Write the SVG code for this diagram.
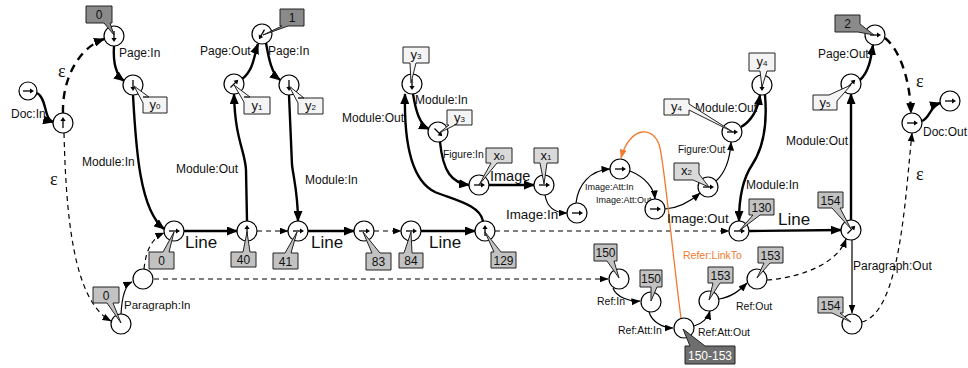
<svg xmlns="http://www.w3.org/2000/svg" xmlns:xlink="http://www.w3.org/1999/xlink" width="968" height="368" viewBox="0 0 968 368">
<style>
.nd{fill:#fff;stroke:#000;stroke-width:1.2}
.gl{stroke:#000;stroke-width:1.3;fill:none}
.co{stroke:#222;stroke-width:1}
.dk{fill:#8a8a8a}
.dk2{fill:#6e6e6e}
.md{fill:#c2c2c2}
.lt{fill:#f4f4f4}
.xb{fill:#d9d9d9}
.ct{font-family:"Liberation Sans",Arial,sans-serif;font-size:12px;text-anchor:middle;fill:#111}
.ctw{font-family:"Liberation Sans",Arial,sans-serif;font-size:12px;text-anchor:middle;fill:#fff}
.yt{font-family:"Liberation Sans",Arial,sans-serif;font-size:13px;text-anchor:middle;fill:#111}
.sb{font-size:8px}
.tk{stroke:#000;stroke-width:2.4;fill:none;marker-end:url(#ab)}
.tkd{stroke:#000;stroke-width:2.4;fill:none;stroke-dasharray:8 6;marker-end:url(#ab)}
.tn{stroke:#000;stroke-width:1.2;fill:none;marker-end:url(#as)}
.tnd{stroke:#000;stroke-width:1.2;fill:none;stroke-dasharray:5 4;marker-end:url(#as)}
.tnn{stroke:#000;stroke-width:1.2;fill:none;stroke-dasharray:5 4}
.or{stroke:#f07a30;stroke-width:1.3;fill:none;marker-end:url(#ao)}
.lb{font-family:"Liberation Sans",Arial,sans-serif;font-size:12px;fill:#111}
.ls{font-family:"Liberation Sans",Arial,sans-serif;font-size:10.5px;fill:#111}
.lxs{font-family:"Liberation Sans",Arial,sans-serif;font-size:9px;fill:#111}
.lbig{font-family:"Liberation Sans",Arial,sans-serif;font-size:17px;fill:#111}
.eps{font-family:"Liberation Serif","Times New Roman",serif;font-size:18px;fill:#111}
</style>
<defs>
<marker id="ab" markerWidth="11" markerHeight="9" refX="10" refY="4.5" orient="auto" markerUnits="userSpaceOnUse"><path d="M0,0 L11,4.5 L0,9 z" fill="#000"/></marker>
<marker id="as" markerWidth="9" markerHeight="7" refX="8.5" refY="3.5" orient="auto" markerUnits="userSpaceOnUse"><path d="M0,0 L9,3.5 L0,7 z" fill="#000"/></marker>
<marker id="ao" markerWidth="9" markerHeight="7" refX="8.5" refY="3.5" orient="auto" markerUnits="userSpaceOnUse"><path d="M0,0 L9,3.5 L0,7 z" fill="#f07a30"/></marker>
<g id="g"><path class="gl" d="M-5,0 H3"/><path d="M2,-2.6 L6,0 L2,2.6 z" fill="#000"/></g>
</defs>

<g id="connectors">
<path class="tk" d="M37,93 C47,98 44,120 53,122"/>
<path class="tkd" d="M63,113 C62,80 78,48 104,39"/>
<path class="tnd" d="M64,133 C66,210 72,300 111,321"/>
<path class="tk" d="M114,46 C113,62 116,75 124,81"/>
<path class="tk" d="M133,95 C136,150 140,210 164,229"/>
<path class="tk" d="M184,231 H237"/>
<path class="tk" d="M247,221 L246,170 C245,150 235,140 234,94"/>
<path class="tk" d="M242,79 C254,70 254,55 258,44"/>
<path class="tk" d="M266,43 C269,60 272,74 280,80"/>
<path class="tk" d="M289,95 L292,165 C294,180 298,195 298,221"/>
<path class="tnd" d="M257,231 H288"/>
<path class="tk" d="M308,231 H354"/>
<path class="tnd" d="M374,231 H401"/>
<path class="tk" d="M421,231 H475"/>
<path class="tk" d="M483,221 C480,205 455,200 435,192 C410,180 404,140 405,94"/>
<path class="tk" d="M413,94 C416,112 420,125 429,129"/>
<path class="tk" d="M440,142 C443,172 452,183 469,185"/>
<path class="tk" d="M489,185 H534"/>
<path class="tn" d="M545,195 C547,207 555,213 567,213"/>
<path class="tn" d="M576,203 C578,185 590,170 610,169"/>
<path class="tn" d="M630,171 C645,177 654,188 655,199"/>
<path class="tn" d="M665,209 C680,208 692,200 700,193"/>
<path class="tn" d="M716,181 C726,172 730,160 731,142"/>
<path class="tk" d="M741,127 C753,120 758,108 760,95"/>
<path class="tk" d="M765,95 C768,130 762,150 752,165 C742,180 739,200 739,221"/>
<path class="tnd" d="M495,231 H729"/>
<path class="tk" d="M749,231 L841,230"/>
<path class="tk" d="M851,220 V94"/>
<path class="tk" d="M860,80 C869,72 871,58 873,45"/>
<path class="tkd" d="M885,38 C900,50 910,80 911,113"/>
<path class="tn" d="M852,240 V313"/>
<path class="tnd" d="M862,322 C900,312 905,200 912,133"/>
<path class="tk" d="M922,121 C930,118 930,106 940,103"/>
<path class="tn" d="M121,314 C122,296 125,285 132,282"/>
<path class="tnd" d="M144,269 C146,250 152,238 164,233"/>
<path class="tnd" d="M154,279 H608"/>
<path class="tn" d="M613,288 C616,297 630,302 640,301"/>
<path class="tn" d="M649,312 C652,322 663,328 673,328"/>
<path class="tn" d="M694,326 C702,324 708,318 710,311"/>
<path class="tn" d="M719,299 C732,297 740,290 747,283"/>
<path class="tnd" d="M767,280 C805,277 838,262 846,239"/>
<path class="or" d="M681,318 C672,250 665,170 660,148 C655,125 630,125 621,158"/>
</g>

<g id="labels">
<text class="eps" x="58" y="77">ε</text>
<text class="eps" x="50" y="185">ε</text>
<text class="eps" x="916" y="87">ε</text>
<text class="eps" x="916" y="180">ε</text>
<text class="lb" x="11" y="118">Doc:In</text>
<text class="lb" x="119" y="57">Page:In</text>
<text class="lb" x="82" y="166">Module:In</text>
<text class="lb" x="176" y="173">Module:Out</text>
<text class="lb" x="200" y="55">Page:Out</text>
<text class="lb" x="268" y="55">Page:In</text>
<text class="lb" x="305" y="184">Module:In</text>
<text class="lbig" x="185" y="248">Line</text>
<text class="lbig" x="311" y="248">Line</text>
<text class="lbig" x="429" y="248">Line</text>
<text class="lbig" x="778" y="225">Line</text>
<text class="lb" x="342" y="122">Module:Out</text>
<text class="lb" x="415" y="104">Module:In</text>
<text class="ls" x="443" y="158" style="font-size:10.3px">Figure:In</text>
<text class="lb" x="490" y="181" style="font-size:14.5px">Image</text>
<text class="lb" x="506" y="219" style="font-size:13.4px">Image:In</text>
<text class="lxs" x="585" y="190">Image:Att:In</text>
<text class="lxs" x="596" y="203">Image:Att:Out</text>
<text class="lb" x="667" y="223" style="font-size:13.2px">Image:Out</text>
<text class="ls" x="678" y="153" style="font-size:10px">Figure:Out</text>
<text class="lb" x="695" y="112">Module:Out</text>
<text class="lb" x="746" y="189">Module:In</text>
<text class="ls" x="683" y="259" style="fill:#f07a30">Refer:LinkTo</text>
<text class="ls" x="597" y="305">Ref:In</text>
<text class="ls" x="618" y="334">Ref:Att:In</text>
<text class="ls" x="698" y="336">Ref:Att:Out</text>
<text class="ls" x="736" y="310">Ref:Out</text>
<text class="lb" x="853" y="270">Paragraph:Out</text>
<text class="lb" x="124" y="309" style="font-size:11.5px">Paragraph:In</text>
<text class="lb" x="818" y="58">Page:Out</text>
<text class="lb" x="786" y="145">Module:Out</text>
<text class="lb" x="923" y="136">Doc:Out</text>
</g>

<g id="docStart"><circle class="nd" cx="28" cy="91" r="9"/><use xlink:href="#g" transform="translate(28,91)"/></g>
<g id="docIn"><circle class="nd" cx="63" cy="123" r="10"/><use xlink:href="#g" transform="translate(63,123) rotate(-90)"/></g>
<g id="p0"><circle class="nd" cx="114" cy="36" r="10"/><use xlink:href="#g" transform="translate(114,36) rotate(90)"/><path class="co dk" d="M86,6 H112 V23 H110 L114,35 L104,23 H86 Z"/><text class="ct" x="99" y="19">0</text></g>
<g id="y0"><circle class="nd" cx="133" cy="85" r="10"/><use xlink:href="#g" transform="translate(133,85) rotate(90)"/><path class="co lt" d="M143,97 H167 V113 H143 V103 L134,86 L149,97 Z"/><text class="yt" x="155" y="109">y<tspan class="sb">0</tspan></text></g>
<g id="l0"><circle class="nd" cx="174" cy="231" r="10"/><use xlink:href="#g" transform="translate(174,231)"/><path class="co md" d="M149,252 H163 L174,232 L169,252 H174 V269 H149 Z"/><text class="ct" x="161.5" y="265">0</text></g>
<g id="n40"><circle class="nd" cx="247" cy="231" r="10"/><use xlink:href="#g" transform="translate(247,231) rotate(-90)"/><path class="co md" d="M231,252 H243 L247,232 L250,252 H256 V267 H231 Z"/><text class="ct" x="243.5" y="264">40</text></g>
<g id="n41"><circle class="nd" cx="298" cy="231" r="10"/><use xlink:href="#g" transform="translate(298,231)"/><path class="co md" d="M273,253 H285 L297,232 L291,253 H298 V269 H273 Z"/><text class="ct" x="285.5" y="266">41</text></g>
<g id="n83"><circle class="nd" cx="364" cy="231" r="10"/><use xlink:href="#g" transform="translate(364,231)"/><path class="co md" d="M366,253 H372 L363,232 L380,253 H391 V270 H366 Z"/><text class="ct" x="378.5" y="266">83</text></g>
<g id="n84"><circle class="nd" cx="411" cy="231" r="10"/><use xlink:href="#g" transform="translate(411,231)"/><path class="co md" d="M399,253 H404 L411,232 L412,253 H423 V268 H399 Z"/><text class="ct" x="411" y="265">84</text></g>
<g id="n129"><circle class="nd" cx="485" cy="231" r="10"/><use xlink:href="#g" transform="translate(485,231) rotate(-90)"/><path class="co md" d="M491,252 H494 L485,232 L501,252 H516 V268 H491 Z"/><text class="ct" x="503.5" y="265">129</text></g>
<g id="y1"><circle class="nd" cx="234" cy="84" r="10"/><use xlink:href="#g" transform="translate(234,84) rotate(-45)"/><path class="co lt" d="M244,97 H270 V114 H244 V102 L234,85 L250,97 Z"/><text class="yt" x="257" y="110">y<tspan class="sb">1</tspan></text></g>
<g id="pg1"><circle class="nd" cx="262" cy="34" r="10"/><use xlink:href="#g" transform="translate(262,34) rotate(120)"/><path class="co dk" d="M280,9 H304 V26 H288 L263,35 L282,26 H280 Z"/><text class="ct" x="292" y="22">1</text></g>
<g id="y2"><circle class="nd" cx="289" cy="85" r="10"/><use xlink:href="#g" transform="translate(289,85) rotate(90)"/><path class="co lt" d="M298,98 H323 V114 H298 V103 L289,86 L304,98 Z"/><text class="yt" x="310.5" y="110">y<tspan class="sb">2</tspan></text></g>
<g id="y3a"><circle class="nd" cx="412" cy="84" r="10"/><use xlink:href="#g" transform="translate(412,84) rotate(90)"/><path class="co lt" d="M403,47 H429 V63 H416 L411,83 L410,63 H403 Z"/><text class="yt" x="416" y="59">y<tspan class="sb">3</tspan></text></g>
<g id="y3b"><circle class="nd" cx="438" cy="132" r="10"/><use xlink:href="#g" transform="translate(438,132) rotate(45)"/><path class="co lt" d="M447,110 H472 V125 H455 L439,133 L449,125 H447 Z"/><text class="yt" x="459.5" y="122">y<tspan class="sb">3</tspan></text></g>
<g id="x0"><circle class="nd" cx="479" cy="185" r="10"/><use xlink:href="#g" transform="translate(479,185)"/><path class="co xb" d="M486,148 H512 V163 H497 L479,185 L491,163 H486 Z"/><text class="yt" x="499" y="160">x<tspan class="sb">0</tspan></text></g>
<g id="x1"><circle class="nd" cx="544" cy="185" r="10"/><use xlink:href="#g" transform="translate(544,185)"/><path class="co xb" d="M534,148 H558 V163 H547 L544,184 L540,163 H534 Z"/><text class="yt" x="546" y="160">x<tspan class="sb">1</tspan></text></g>
<g id="imgIn"><circle class="nd" cx="577" cy="213" r="10"/><use xlink:href="#g" transform="translate(577,213)"/></g>
<g id="attIn"><circle class="nd" cx="620" cy="169" r="10"/><use xlink:href="#g" transform="translate(620,169)"/></g>
<g id="attOut"><circle class="nd" cx="655" cy="209" r="10"/><use xlink:href="#g" transform="translate(655,209)"/></g>
<g id="x2"><circle class="nd" cx="708" cy="187" r="10"/><use xlink:href="#g" transform="translate(708,187)"/><path class="co xb" d="M674,163 H699 V174 L709,187 L693,180 H674 Z"/><text class="yt" x="686.5" y="175">x<tspan class="sb">2</tspan></text></g>
<g id="figOut"><circle class="nd" cx="732" cy="132" r="10"/><use xlink:href="#g" transform="translate(732,132)"/><path class="co lt" d="M664,99 H689 V104 L733,132 L689,110 V115 H664 Z"/><text class="yt" x="676.5" y="111">y<tspan class="sb">4</tspan></text></g>
<g id="y4"><circle class="nd" cx="762" cy="85" r="10"/><use xlink:href="#g" transform="translate(762,85) rotate(90)"/><path class="co lt" d="M749,53 H775 V71 H767 L762,87 L760,71 H749 Z"/><text class="yt" x="762" y="66">y<tspan class="sb">4</tspan></text></g>
<g id="n130"><circle class="nd" cx="739" cy="231" r="10"/><use xlink:href="#g" transform="translate(739,231)"/><path class="co md" d="M749,199 H774 V215 H760 L739,231 L753,215 H749 Z"/><text class="ct" x="761.5" y="212">130</text></g>
<g id="n154"><circle class="nd" cx="851" cy="230" r="10"/><use xlink:href="#g" transform="translate(851,230) rotate(-45)"/><path class="co md" d="M818,192 H843 V208 H840 L851,229 L832,208 H818 Z"/><text class="ct" x="830.5" y="205">154</text></g>
<g id="y5"><circle class="nd" cx="851" cy="84" r="10"/><use xlink:href="#g" transform="translate(851,84) rotate(-45)"/><path class="co lt" d="M813,95 H829 L851,85 L837,101 V110 H813 Z"/><text class="yt" x="825" y="107">y<tspan class="sb">5</tspan></text></g>
<g id="pg2"><circle class="nd" cx="875" cy="35" r="10"/><use xlink:href="#g" transform="translate(875,35)"/><path class="co dk" d="M835,15 H860 V24 L874,35 L858,32 H835 Z"/><text class="ct" x="847.5" y="28">2</text></g>
<g id="docOut"><circle class="nd" cx="912" cy="123" r="10"/><use xlink:href="#g" transform="translate(912,123)"/></g>
<g id="docEnd"><circle class="nd" cx="950" cy="101" r="10"/><use xlink:href="#g" transform="translate(950,101)"/></g>
<g id="paraIn"><circle class="nd" cx="121" cy="324" r="10"/><path class="co md" d="M93,287 H119 V303 H113 L121,323 L107,303 H93 Z"/><text class="ct" x="106" y="300">0</text></g>
<g id="para2"><circle class="nd" cx="143" cy="279" r="10"/></g>
<g id="r150a"><circle class="nd" cx="619" cy="279" r="10"/><path class="co md" d="M594,244 H617 V261 H614 L619,278 L607,261 H594 Z"/><text class="ct" x="605.5" y="257">150</text></g>
<g id="r150b"><circle class="nd" cx="651" cy="302" r="10"/><path class="co md" d="M640,270 H662 V287 H657 L651,301 L651,287 H640 Z"/><text class="ct" x="651" y="283">150</text></g>
<g id="rAtt"><circle class="nd" cx="684" cy="328" r="10"/><path class="co dk2" d="M685,346 H690 L683,329 L705,346 H735 V364 H685 Z"/><text class="ctw" x="710" y="360">150-153</text></g>
<g id="r153a"><circle class="nd" cx="709" cy="301" r="10"/><path class="co md" d="M708,267 H733 V283 H720 L709,300 L713,283 H708 Z"/><text class="ct" x="720.5" y="280">153</text></g>
<g id="r153b"><circle class="nd" cx="757" cy="279" r="10"/><path class="co md" d="M758,247 H783 V263 H770 L757,278 L764,263 H758 Z"/><text class="ct" x="770.5" y="260">153</text></g>
<g id="paraOut"><circle class="nd" cx="852" cy="324" r="10"/><path class="co md" d="M818,297 H843 V313 H840 L851,322 L832,313 H818 Z"/><text class="ct" x="830.5" y="310">154</text></g>
</svg>
